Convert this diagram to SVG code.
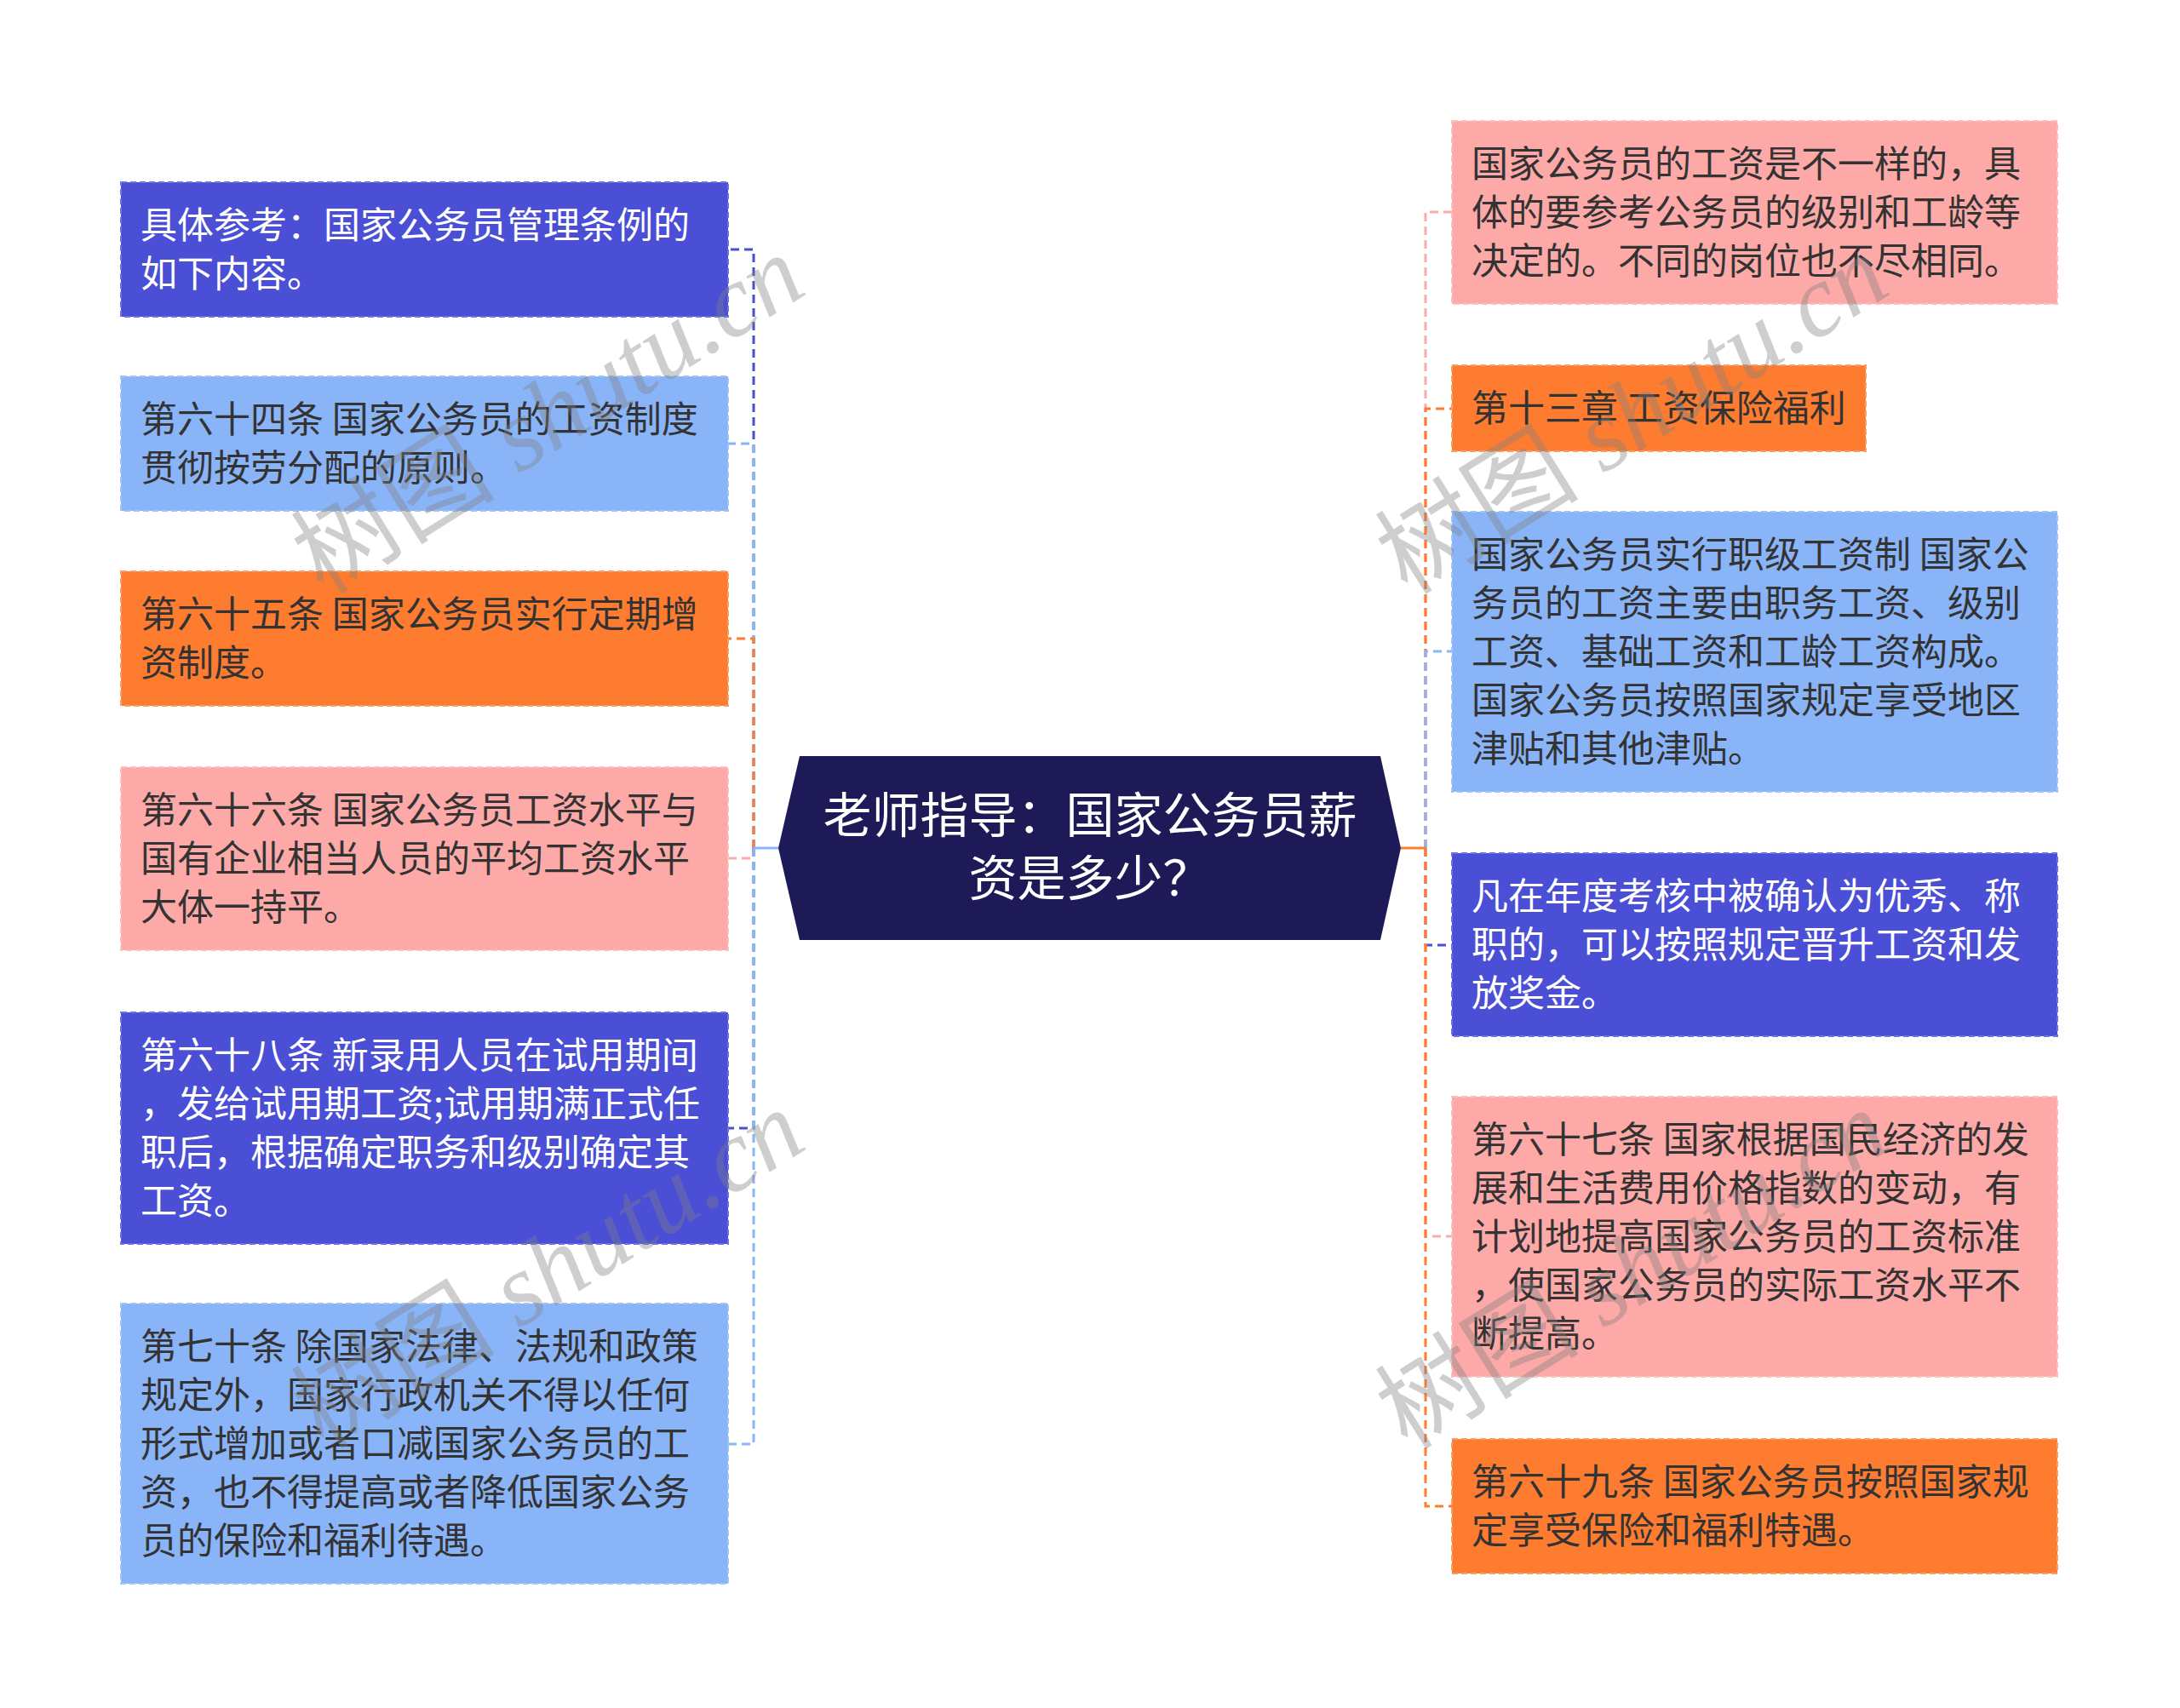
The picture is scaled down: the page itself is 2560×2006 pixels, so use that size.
<svg xmlns="http://www.w3.org/2000/svg" width="2560" height="2006" viewBox="0 0 2560 2006">
<style>
.t{font-family:"Noto Sans CJK SC","Noto Sans",sans-serif;font-size:43px;fill:#333333}
.w{fill:#ffffff}
.db{fill:#4a4fd6;stroke:#6c73e6;stroke-width:2;stroke-dasharray:7 4}
.lb{fill:#8ab4f8;stroke:#a3c3f7;stroke-width:2;stroke-dasharray:7 4}
.or{fill:#fd7c30;stroke:#f5a068;stroke-width:2;stroke-dasharray:7 4}
.pk{fill:#fda9a8;stroke:#f7c1c0;stroke-width:2;stroke-dasharray:7 4}
.c{fill:none;stroke-width:3;stroke-dasharray:10 6}
.cdb{stroke:#4a4fd6}.clb{stroke:#8ab4f8}.cor{stroke:#fd7c30}.cpk{stroke:#fda9a8}
.wm{font-family:"Liberation Serif","Noto Sans CJK SC",serif;font-size:120px;fill:#808080;opacity:0.38}
</style>
<rect width="2560" height="2006" fill="#ffffff"/>
<g id="connectors">
<path class="c cdb" d="M885,996 V293 H855"/>
<path class="c clb" d="M885,996 V521 H855"/>
<path class="c cor" d="M885,996 V750 H855"/>
<path class="c cpk" d="M885,996 V1008 H855"/>
<path class="c cdb" d="M885,996 V1325 H855"/>
<path class="c clb" d="M885,996 V1696 H855"/>
<path d="M914,996 H885" stroke="#8ab4f8" stroke-width="3"/>
<path class="c cpk" d="M1674,996 V249 H1705"/>
<path class="c cor" d="M1674,996 V480 H1705"/>
<path class="c clb" d="M1674,996 V765 H1705"/>
<path class="c cdb" d="M1674,996 V1110 H1705"/>
<path class="c cpk" d="M1674,996 V1452 H1705"/>
<path class="c cor" d="M1674,996 V1769 H1705"/>
<path d="M1645,996 H1674" stroke="#fd7c30" stroke-width="3"/>
</g>
<g id="center">
<polygon points="939,888 1621,888 1645,996 1621,1104 939,1104 914,996" fill="#1e1a58"/>
<text class="t w" style="font-size:57px" text-anchor="middle"><tspan x="1280" y="978">老师指导：国家公务员薪</tspan><tspan x="1280" y="1052">资是多少？</tspan></text>
</g>
<g id="L1">
<rect class="db" x="142" y="214" width="713" height="158"/>
<text class="t w"><tspan x="165" y="279.5">具体参考：国家公务员管理条例的</tspan><tspan x="165" y="336.5">如下内容。</tspan></text>
</g>
<g id="L2">
<rect class="lb" x="142" y="442" width="713" height="158"/>
<text class="t"><tspan x="165" y="507.5">第六十四条 国家公务员的工资制度</tspan><tspan x="165" y="564.5">贯彻按劳分配的原则。</tspan></text>
</g>
<g id="L3">
<rect class="or" x="142" y="671" width="713" height="158"/>
<text class="t"><tspan x="165" y="736.5">第六十五条 国家公务员实行定期增</tspan><tspan x="165" y="793.5">资制度。</tspan></text>
</g>
<g id="L4">
<rect class="pk" x="142" y="901" width="713" height="215"/>
<text class="t"><tspan x="165" y="966.5">第六十六条 国家公务员工资水平与</tspan><tspan x="165" y="1023.5">国有企业相当人员的平均工资水平</tspan><tspan x="165" y="1080.5">大体一持平。</tspan></text>
</g>
<g id="L5">
<rect class="db" x="142" y="1189" width="713" height="272"/>
<text class="t w"><tspan x="165" y="1254.5">第六十八条 新录用人员在试用期间</tspan><tspan x="165" y="1311.5">，发给试用期工资;试用期满正式任</tspan><tspan x="165" y="1368.5">职后，根据确定职务和级别确定其</tspan><tspan x="165" y="1425.5">工资。</tspan></text>
</g>
<g id="L6">
<rect class="lb" x="142" y="1531" width="713" height="329"/>
<text class="t"><tspan x="165" y="1596.5">第七十条 除国家法律、法规和政策</tspan><tspan x="165" y="1653.5">规定外，国家行政机关不得以任何</tspan><tspan x="165" y="1710.5">形式增加或者口减国家公务员的工</tspan><tspan x="165" y="1767.5">资，也不得提高或者降低国家公务</tspan><tspan x="165" y="1824.5">员的保险和福利待遇。</tspan></text>
</g>
<g id="R1">
<rect class="pk" x="1705" y="142" width="711" height="215"/>
<text class="t"><tspan x="1728" y="207.5">国家公务员的工资是不一样的，具</tspan><tspan x="1728" y="264.5">体的要参考公务员的级别和工龄等</tspan><tspan x="1728" y="321.5">决定的。不同的岗位也不尽相同。</tspan></text>
</g>
<g id="R2">
<rect class="or" x="1705" y="429" width="486" height="101"/>
<text class="t"><tspan x="1728" y="494.5">第十三章 工资保险福利</tspan></text>
</g>
<g id="R3">
<rect class="lb" x="1705" y="601" width="711" height="329"/>
<text class="t"><tspan x="1728" y="666.5">国家公务员实行职级工资制 国家公</tspan><tspan x="1728" y="723.5">务员的工资主要由职务工资、级别</tspan><tspan x="1728" y="780.5">工资、基础工资和工龄工资构成。</tspan><tspan x="1728" y="837.5">国家公务员按照国家规定享受地区</tspan><tspan x="1728" y="894.5">津贴和其他津贴。</tspan></text>
</g>
<g id="R4">
<rect class="db" x="1705" y="1002" width="711" height="215"/>
<text class="t w"><tspan x="1728" y="1067.5">凡在年度考核中被确认为优秀、称</tspan><tspan x="1728" y="1124.5">职的，可以按照规定晋升工资和发</tspan><tspan x="1728" y="1181.5">放奖金。</tspan></text>
</g>
<g id="R5">
<rect class="pk" x="1705" y="1288" width="711" height="329"/>
<text class="t"><tspan x="1728" y="1353.5">第六十七条 国家根据国民经济的发</tspan><tspan x="1728" y="1410.5">展和生活费用价格指数的变动，有</tspan><tspan x="1728" y="1467.5">计划地提高国家公务员的工资标准</tspan><tspan x="1728" y="1524.5">，使国家公务员的实际工资水平不</tspan><tspan x="1728" y="1581.5">断提高。</tspan></text>
</g>
<g id="R6">
<rect class="or" x="1705" y="1690" width="711" height="158"/>
<text class="t"><tspan x="1728" y="1755.5">第六十九条 国家公务员按照国家规</tspan><tspan x="1728" y="1812.5">定享受保险和福利特遇。</tspan></text>
</g>
<g id="watermarks">
<text class="wm" transform="translate(380,700) rotate(-32)">树图 <tspan font-style="italic">shutu.cn</tspan></text>
<text class="wm" transform="translate(380,1704) rotate(-32)">树图 <tspan font-style="italic">shutu.cn</tspan></text>
<text class="wm" transform="translate(1653,700) rotate(-32)">树图 <tspan font-style="italic">shutu.cn</tspan></text>
<text class="wm" transform="translate(1653,1704) rotate(-32)">树图 <tspan font-style="italic">shutu.cn</tspan></text>
</g>
</svg>
